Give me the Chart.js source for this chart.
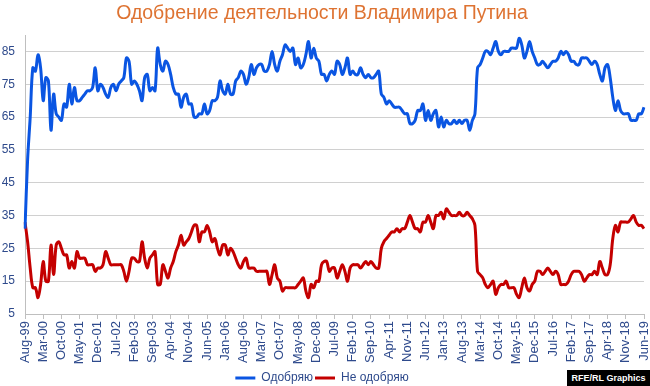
<!DOCTYPE html>
<html>
<head>
<meta charset="utf-8">
<script src="https://cdn.jsdelivr.net/npm/chart.js@4/dist/chart.umd.min.js"></script>
<style>
  html, body { margin: 0; padding: 0; background: #ffffff; }
  #wrap { position: relative; width: 650px; height: 386px; overflow: hidden; }
  #credit { position: absolute; left: 567px; top: 370px; width: 83px; height: 16px; background: #000; color: #fff;
    font: bold 9px "Liberation Sans", Arial, sans-serif; line-height: 16px; text-align: center; white-space: nowrap; }
</style>
</head>
<body>
<div id="wrap">
  <canvas id="c" width="650" height="386"></canvas>
  <div id="credit">RFE/RL Graphics</div>
</div>
<script>
// Categories: monthly, Aug-99 .. Jun-19
const monthNames = ["Jan","Feb","Mar","Apr","May","Jun","Jul","Aug","Sep","Oct","Nov","Dec"];
const months = [];
for (let y = 1999, m = 7; y < 2019 || (y === 2019 && m <= 5); ) {
  months.push(monthNames[m] + "-" + String(y % 100).padStart(2, "0"));
  m++; if (m > 11) { m = 0; y++; }
}
const tickEvery = 7;
const yTicks = [5, 15, 25, 35, 45, 55, 65, 75, 85];

const approve = [
  31, 52, 65, 80, 79, 84, 80, 70, 77, 76,
  61, 72, 66, 65, 64, 69, 68, 75, 69, 74,
  70, 70, 71, 72, 73, 73, 74, 80, 73, 75,
  74, 72, 71, 74, 75, 73, 75, 76, 77, 83,
  82, 75, 76, 75, 73, 70, 77, 78, 73, 74,
  73, 86, 81, 79, 82, 81, 78, 74, 72, 72,
  68, 71, 72, 69, 69, 65, 65, 66, 66, 69,
  66, 67, 70, 70, 71, 76, 73, 72, 75, 72,
  72, 76, 77, 79, 78, 75, 77, 81, 78, 80,
  81, 81, 79, 79, 81, 85, 81, 79, 82, 84,
  87, 86, 85, 86, 81, 83, 80, 81, 84, 88,
  83, 86, 83, 82, 78, 78, 76, 78, 79, 78,
  82, 81, 78, 80, 83, 78, 79, 78, 78, 80,
  78, 77, 78, 77, 77, 78, 79, 72, 71, 69,
  70, 69, 68, 68, 68, 67, 66, 66, 63, 63,
  64, 67, 67, 69, 64, 67, 64, 66, 67, 62,
  65, 62, 64, 63, 63, 64, 63, 64, 63, 64,
  64, 61, 64, 66, 80, 81, 83, 85, 85, 84,
  86, 88, 85, 84, 85, 85, 85, 86, 86, 86,
  89, 87, 83, 85, 88, 85, 83, 81, 81, 82,
  81, 80, 81, 82, 82, 83, 85, 84, 85, 84,
  82, 82, 81, 81, 83, 83, 83, 82, 81, 82,
  81, 78, 76, 80, 81, 77, 71, 67, 70, 67,
  66, 66, 66, 64, 64, 64, 66, 66, 68
];

const disapprove = [
  33, 27, 19, 13, 13, 10, 14, 21, 15, 15,
  26, 17, 26, 27, 25, 23, 23, 19, 21, 19,
  24, 22, 22, 22, 20, 20, 20, 18, 19, 19,
  20, 24, 22, 20, 20, 20, 20, 20, 18, 15,
  18, 22, 22, 21, 21, 27, 22, 19, 22, 23,
  24, 14, 14, 20, 18, 16, 19, 21, 24, 26,
  29, 26, 27, 28, 30, 32, 32, 27, 30, 30,
  32, 30, 27, 28, 25, 23, 26, 26, 23, 25,
  24, 22, 20, 19, 21, 22, 19, 19, 19, 18,
  18, 18, 18, 18, 14, 17, 20, 16, 15, 12,
  13, 13, 13, 13, 13, 14, 15, 16, 12, 10,
  14, 13, 15, 15, 20, 21, 21, 18, 19, 19,
  16, 18, 20, 18, 15, 19, 20, 20, 20, 19,
  20, 21, 20, 21, 20, 19, 19, 25, 27, 28,
  29, 30, 30, 31, 30, 31, 31, 33, 35, 33,
  31, 31, 30, 33, 33, 35, 33, 31, 35, 35,
  36, 34, 37, 36, 35, 35, 35, 36, 35, 35,
  36, 35, 34, 32, 18, 17, 16, 14, 13, 14,
  15, 11, 13, 14, 14, 15, 13, 13, 13, 11,
  10, 13, 16, 13, 12, 14, 15, 18, 18, 17,
  18, 19, 18, 17, 18, 17, 14, 14, 14, 15,
  17, 18, 18, 18, 17, 15, 16, 17, 17, 18,
  17, 21, 19, 17, 17, 20, 28, 32, 30, 33,
  33, 33, 33, 34, 35, 33, 32, 32, 31
];

const tickColor = "#2E4A8C";
const gridColor = "#D0D0D0";
const fontFam = "'Liberation Sans', Arial, sans-serif";

new Chart(document.getElementById("c"), {
  type: "line",
  data: {
    labels: months,
    datasets: [
      { label: "Одобряю", data: approve, borderColor: "#0A55E2", backgroundColor: "#0A55E2",
        borderWidth: 3, pointRadius: 0, tension: 0.35, fill: false },
      { label: "Не одобряю", data: disapprove, borderColor: "#C40000", backgroundColor: "#C40000",
        borderWidth: 3, pointRadius: 0, tension: 0.35, fill: false }
    ]
  },
  options: {
    responsive: false,
    animation: false,
    layout: { padding: { left: 0, right: 6, top: 0, bottom: -8 } },
    plugins: {
      title: {
        display: true,
        text: "Одобрение деятельности Владимира Путина",
        color: "#DE7332",
        font: { family: fontFam, size: 19.5, weight: "normal" },
        padding: { top: 2, bottom: 9.6 }
      },
      legend: {
        position: "bottom",
        labels: {
          color: "#2E4A8C",
          font: { family: fontFam, size: 12 },
          usePointStyle: true,
          pointStyle: "line",
          pointStyleWidth: 20,
          boxHeight: 3,
          padding: 2
        }
      },
      tooltip: { enabled: false }
    },
    scales: {
      x: {
        offset: false,
        border: { display: true, color: "#BFBFBF", width: 1 },
        grid: { display: true, drawOnChartArea: false, drawTicks: true, tickLength: 5, color: "#BFBFBF" },
        ticks: {
          autoSkip: false, minRotation: 90, maxRotation: 90, padding: 2,
          color: tickColor,
          font: { family: fontFam, size: 13 },
          callback: function (v, i) { return i % tickEvery === 0 ? months[i] : null; }
        },
        afterFit: function (s) { s.height = 56; s.paddingLeft = 0; s.paddingRight = 0; }
      },
      y: {
        min: 5, max: 90,
        border: { display: true, color: "#BFBFBF", width: 1 },
        grid: { color: gridColor, lineWidth: 1, drawTicks: false },
        ticks: {
          padding: 10, color: tickColor,
          font: { family: fontFam, size: 12 }
        },
        afterBuildTicks: function (s) { s.ticks = yTicks.map(function (v) { return { value: v }; }); },
        afterFit: function (s) { s.width = 25; s.paddingTop = 0; s.paddingBottom = 0; }
      }
    }
  }
});
</script>
</body>
</html>
